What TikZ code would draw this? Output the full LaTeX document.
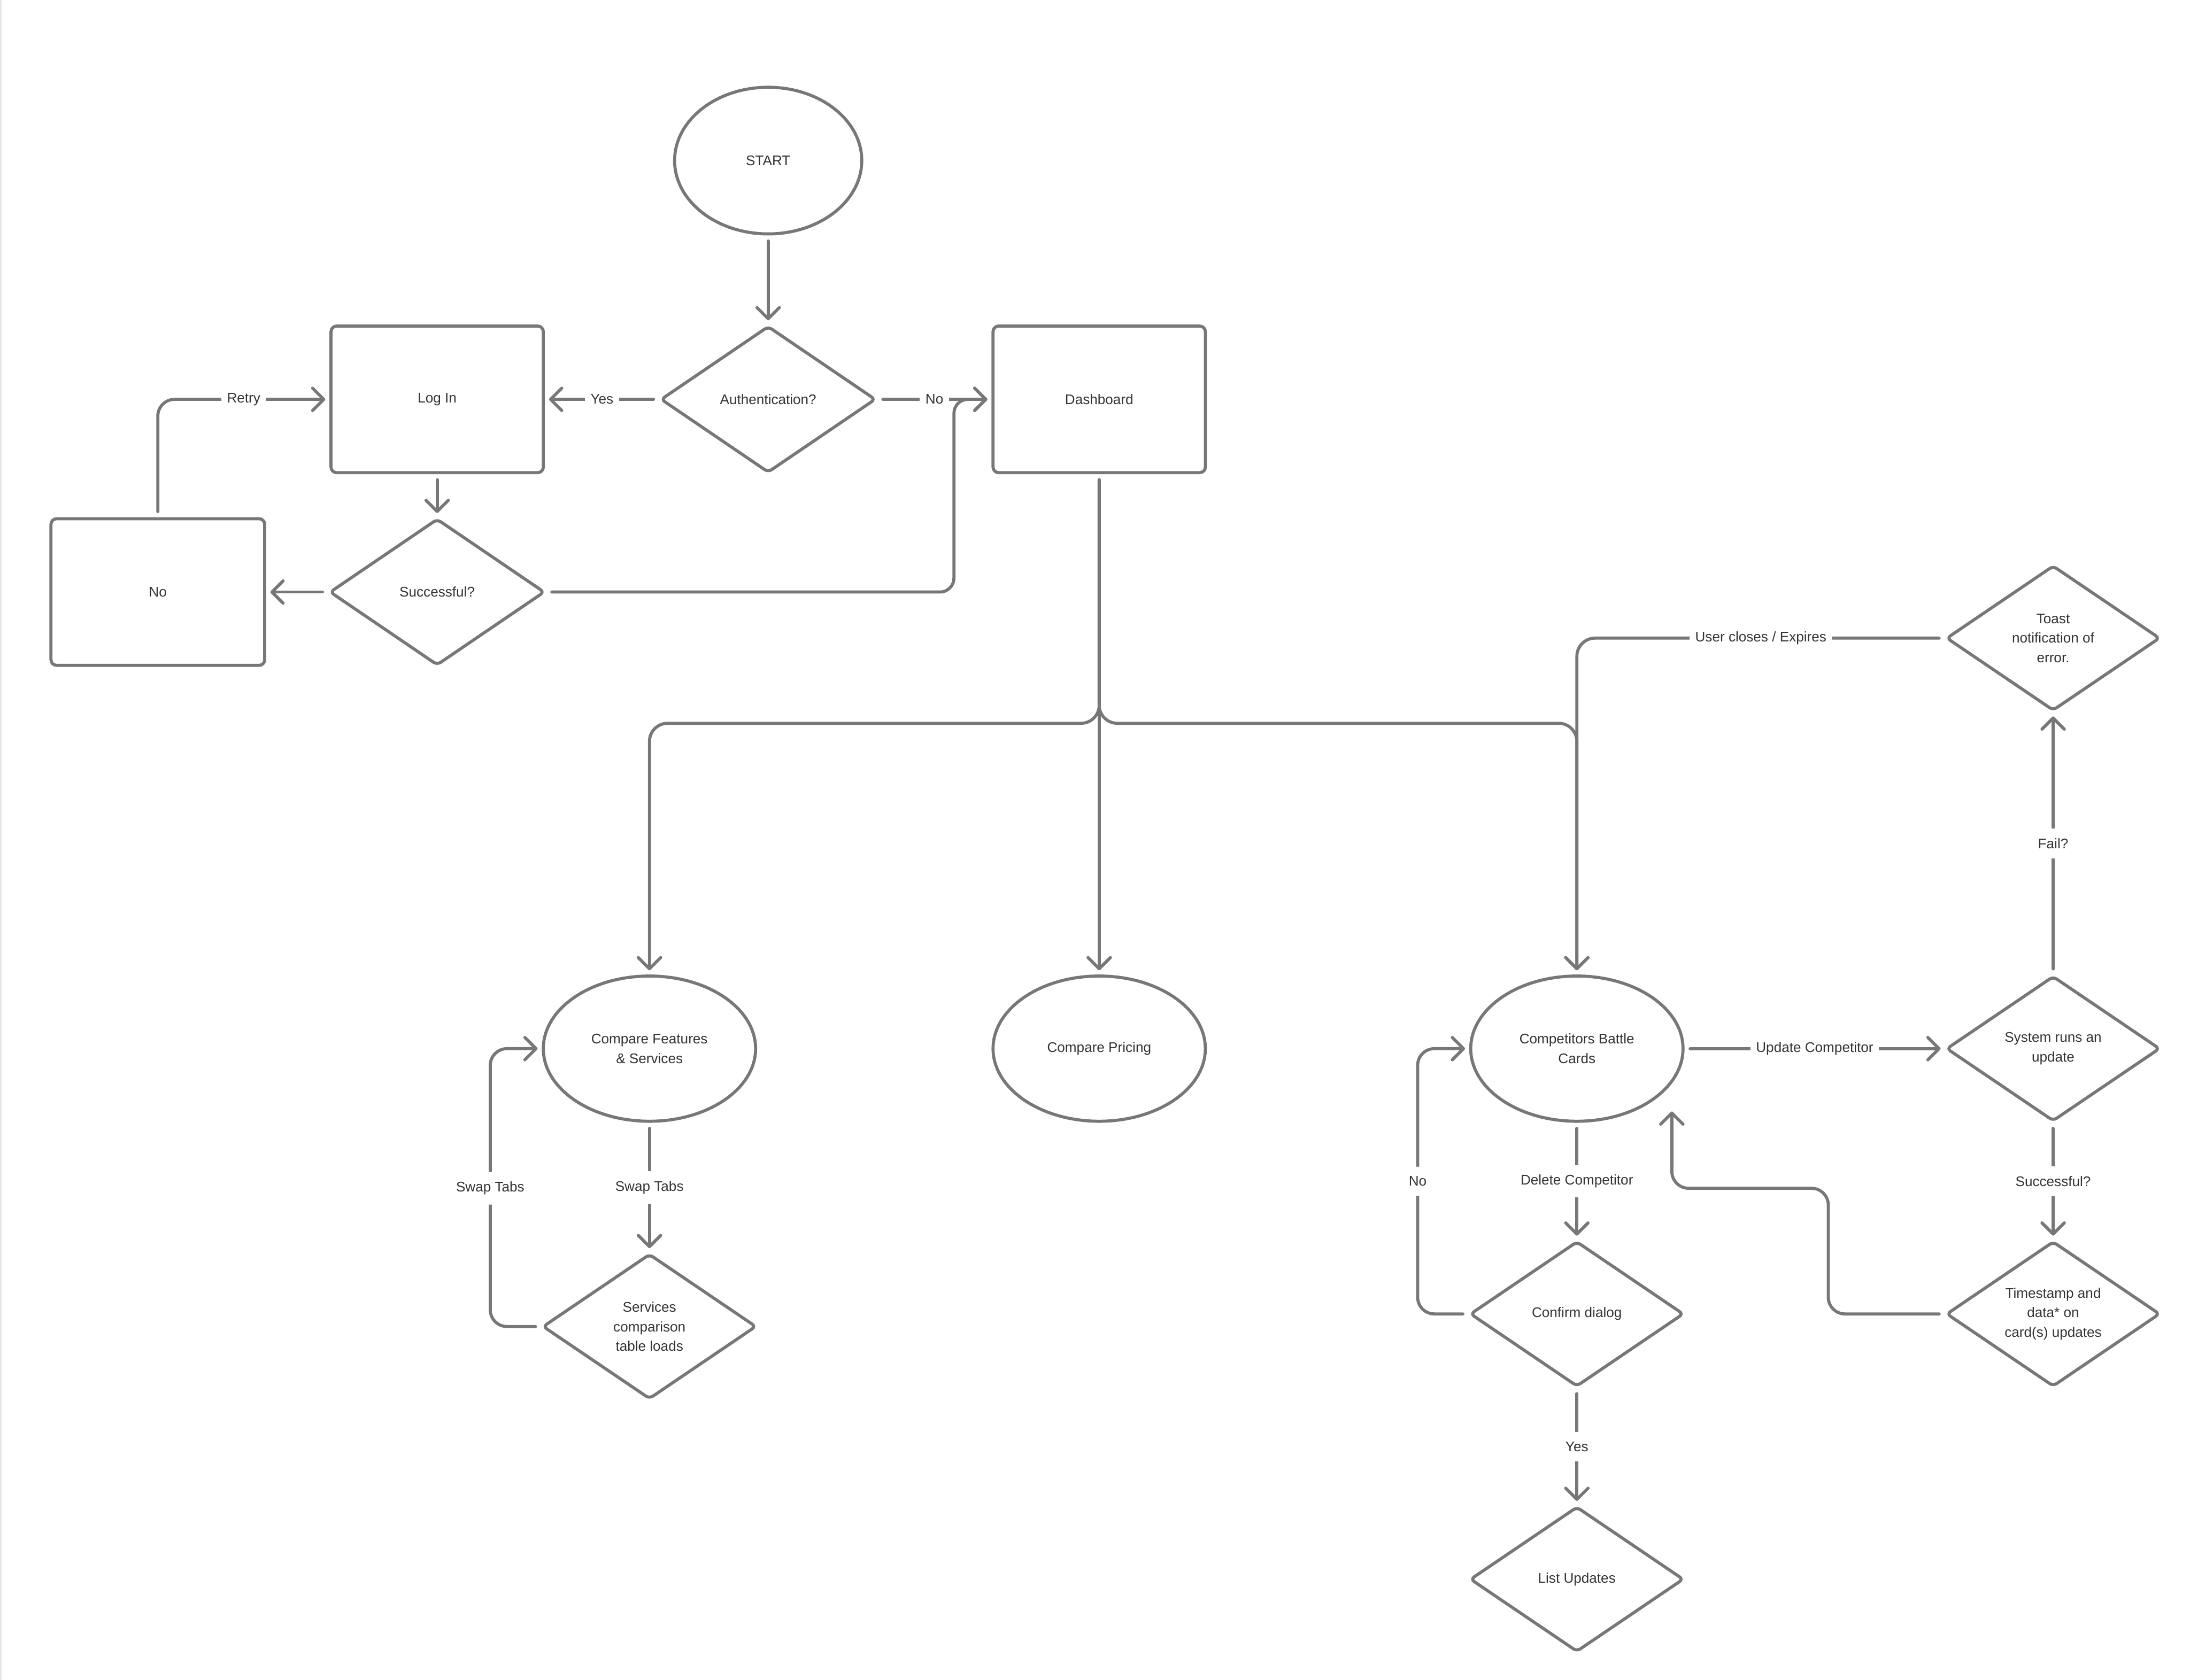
\documentclass[tikz,border=0pt]{standalone}
\usepackage{fontspec}
\setmainfont{Liberation Sans}
\usetikzlibrary{shapes.geometric,arrows.meta}
\definecolor{linegray}{HTML}{777777}
\definecolor{txt}{HTML}{333333}
\definecolor{edgegray}{HTML}{E6E6E6}
\begin{document}
\begin{tikzpicture}[x=1pt,y=-1pt,
  every node/.style={font=\fontsize{10}{14}\selectfont, text=txt},
  base/.style={draw=linegray, line width=2.2pt, inner sep=0pt, fill=white, align=center},
  boxnode/.style={base, rectangle, rounded corners=4pt, minimum width=152pt, minimum height=104pt},
  ovalnode/.style={base, ellipse, minimum width=152pt, minimum height=104pt},
  decnode/.style={base, diamond, shape aspect=1.5, rounded corners=3pt, minimum width=153pt, minimum height=104pt},
  conn/.style={draw=linegray, line width=2.2pt, line cap=round, line join=round, shorten <=4pt, shorten >=3pt, -{Straight Barb[length=8pt,width=16pt,round]}},
  lbl/.style={fill=white, inner xsep=4pt, inner ysep=7pt, text=txt}]
\useasboundingbox (0,0) rectangle (1568,1203);
\fill[white] (0,0) rectangle (1568,1203);
\fill[edgegray] (0,0) rectangle (1,1203);

% nodes
\node[ovalnode, minimum width=134pt, minimum height=105pt] (start) at (550,115) {START};
\node[decnode, minimum width=154pt, minimum height=105pt] (auth) at (550,286) {Authentication?};
\node[boxnode, minimum height=105pt] (login) at (313,286) {Log In};
\node[boxnode, minimum height=105pt] (dash) at (787,286) {Dashboard};
\node[decnode, minimum width=154pt, minimum height=105pt] (succ) at (313,424) {Successful?};
\node[boxnode, minimum width=153pt, minimum height=105pt] (nobox) at (113,424) {No};

\node[ovalnode] (feat) at (465,751) {Compare Features\\\& Services};
\node[ovalnode] (price) at (787,751) {Compare Pricing};
\node[ovalnode] (cards) at (1129,751) {Competitors Battle\\Cards};
\node[decnode] (serv) at (465,950) {Services\\comparison\\table loads};

\node[decnode] (sys) at (1470,751) {System runs an\\update};
\node[decnode] (toast) at (1470,457) {Toast\\notification of\\error.};
\node[decnode] (ts) at (1470,941) {Timestamp and\\data* on\\card(s) updates};
\node[decnode] (confirm) at (1129,941) {Confirm dialog};
\node[decnode] (list) at (1129,1131) {List Updates};

% coordinates
\coordinate (j1) at (683,286);
\coordinate (split) at (787,518);
\coordinate (loopL) at (351,851);
\coordinate (noL) at (1015,846);
\coordinate (c1) at (1309,851);
\coordinate (c2) at (1197,793);

% connectors
\draw[conn] (start.south) -- (auth.north);
\draw[conn] (auth.west) -- node[lbl]{Yes} (login.east);
\draw[conn] (auth.east) -- node[lbl]{No} (dash.west);
\draw[conn] (login.south) -- (succ.north);
\draw[conn] (succ.west) -- (nobox.east);
\draw[conn, rounded corners=10pt] (succ.east) -| (j1) -- (dash.west);
\draw[conn, rounded corners=12pt] (nobox.north) |- node[lbl, pos=0.75]{Retry} (login.west);

\draw[conn, rounded corners=13pt] (dash.south) -- (split) -| (feat.north);
\draw[conn] (dash.south) -- (price.north);
\draw[conn, rounded corners=13pt] (dash.south) -- (split) -| (cards.north);
\draw[conn, rounded corners=13pt] (toast.west) -| node[lbl, pos=0.25]{User closes / Expires} (cards.north);

\draw[conn] (feat.south) -- node[lbl]{Swap Tabs} (serv.north);
\draw[conn, rounded corners=12pt] (serv.west) -| (loopL) node[lbl]{Swap Tabs} |- (feat.west);

\draw[conn] (cards.east) -- node[lbl]{Update Competitor} (sys.west);
\draw[conn] (sys.north) -- node[lbl]{Fail?} (toast.south);
\draw[conn] (sys.south) -- node[lbl]{Successful?} (ts.north);
\draw[conn, rounded corners=12pt] (ts.west) -| (c1) -| (c2);

\draw[conn] (cards.south) -- node[lbl]{Delete Competitor} (confirm.north);
\draw[conn, rounded corners=12pt] (confirm.west) -| (noL) node[lbl]{No} |- (cards.west);
\draw[conn] (confirm.south) -- node[lbl]{Yes} (list.north);
\end{tikzpicture}
\end{document}
